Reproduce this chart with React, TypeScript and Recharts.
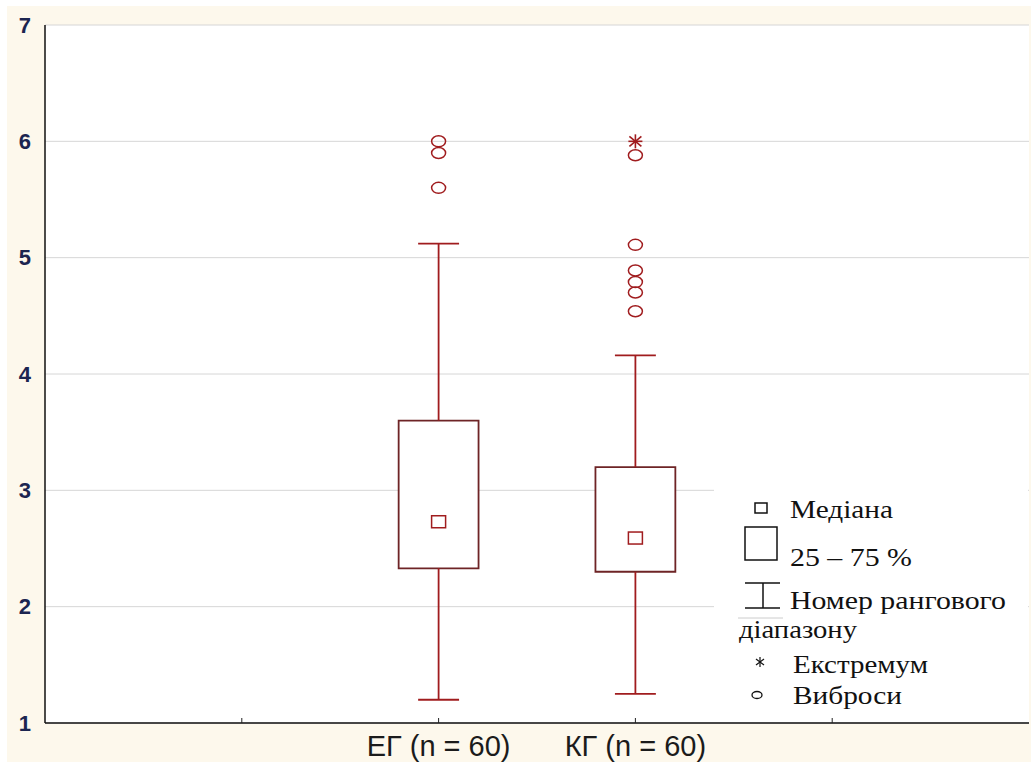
import {
  ComposedChart,
  XAxis,
  YAxis,
  CartesianGrid,
  ReferenceArea,
  ReferenceLine,
  Scatter,
  Legend,
} from "recharts";

// groups (positions on the category axis) and box statistics
const GROUPS = ["ЕГ (n = 60)", "КГ (n = 60)"];
const GROUP_X = [2, 3];
const MINS = [1.2, 1.25];
const Q1S = [2.33, 2.3];
const MEDIANS = [2.73, 2.59];
const Q3S = [3.6, 3.2];
const MAXS = [5.12, 4.16];
const OUTLIERS_EG = [6.0, 5.9, 5.6];
const OUTLIERS_KG = [5.88, 5.11, 4.89, 4.79, 4.7, 4.54];
const EXTREMES_KG = [6.0];

const X_TICKS = [1, 2, 3, 4];
const Y_TICKS = [1, 2, 3, 4, 5, 6, 7];

const BOX_HALF = 0.203;
const CAP_HALF = 0.104;
const RED = "#a01c1e";
const BOX_STROKE = "#6e2426";

const medianPts = GROUP_X.map((x, i) => ({ x, y: MEDIANS[i] }));
const outlierPts = [
  ...OUTLIERS_EG.map((y) => ({ x: GROUP_X[0], y })),
  ...OUTLIERS_KG.map((y) => ({ x: GROUP_X[1], y })),
];
const extremePts = EXTREMES_KG.map((y) => ({ x: GROUP_X[1], y }));

function BottomTick(props: any) {
  const { x, y, payload } = props;
  const idx = GROUP_X.indexOf(payload.value);
  return (
    <g>
      <line x1={x} y1={y} x2={x} y2={y - 5} stroke="#222" />
      {idx >= 0 && (
        <text
          x={x}
          y={y + 33}
          textAnchor="middle"
          fontSize={29}
          fontFamily="Liberation Sans"
          fill="#1b1b1b"
        >
          {GROUPS[idx]}
        </text>
      )}
    </g>
  );
}

function TopTick(props: any) {
  const { x, y } = props;
  return <line x1={x} y1={y} x2={x} y2={y + 5} stroke="#222" />;
}

const MedianShape = (p: any) => (
  <rect x={p.cx - 7} y={p.cy - 6} width={14} height={12} fill="#fff" stroke={RED} strokeWidth={1.5} />
);

const OutlierShape = (p: any) => (
  <ellipse cx={p.cx} cy={p.cy} rx={7} ry={5.5} fill="none" stroke={RED} strokeWidth={1.5} />
);

const ExtremeShape = (p: any) => (
  <g stroke={RED} strokeWidth={1.6}>
    <line x1={p.cx} y1={p.cy - 7} x2={p.cx} y2={p.cy + 7} />
    <line x1={p.cx - 7} y1={p.cy} x2={p.cx + 7} y2={p.cy} />
    <line x1={p.cx - 6} y1={p.cy - 5} x2={p.cx + 6} y2={p.cy + 5} />
    <line x1={p.cx - 6} y1={p.cy + 5} x2={p.cx + 6} y2={p.cy - 5} />
  </g>
);

function LegendBox() {
  const t = { fontFamily: "Liberation Serif", fontSize: 26, fill: "#111", lengthAdjust: "spacingAndGlyphs" as const };
  return (
    <svg width={314} height={234} style={{ display: "block" }}>
      <rect x={41} y={21} width={12} height={10} fill="none" stroke="#111" strokeWidth={1.5} />
      <text x={76} y={36} textLength={103} {...t}>Медіана</text>
      <rect x={31} y={45} width={32} height={33} fill="none" stroke="#111" strokeWidth={1.5} />
      <text x={76} y={84} textLength={122} {...t}>25 – 75 %</text>
      <g stroke="#111" strokeWidth={1.5}>
        <line x1={31} y1={101} x2={66} y2={101} />
        <line x1={49} y1={101} x2={49} y2={126} />
        <line x1={31} y1={126} x2={66} y2={126} />
      </g>
      <line x1={24} y1={136} x2={69} y2={136} stroke="#ccc" />
      <text x={76} y={127} textLength={216} {...t}>Номер рангового</text>
      <text x={25} y={156} textLength={118} {...t}>діапазону</text>
      <g stroke="#111" strokeWidth={1.2}>
        <line x1={46} y1={175} x2={46} y2={185} />
        <line x1={42} y1={177} x2={50} y2={183} />
        <line x1={42} y1={183} x2={50} y2={177} />
      </g>
      <text x={79} y={191} textLength={135} {...t}>Екстремум</text>
      <ellipse cx={43} cy={213} rx={5} ry={3.5} fill="none" stroke="#111" strokeWidth={1.3} />
      <text x={79} y={222} textLength={109} {...t}>Виброси</text>
    </svg>
  );
}

export default function App() {
  return (
    <div style={{ position: "absolute", left: 0, top: 0, width: 1031, height: 762, background: "#fff", overflow: "hidden" }}>
      <div style={{ position: "absolute", left: 7, top: 6, right: 0, bottom: 0, background: "#fdf8ec" }} />
      <div style={{ position: "absolute", left: 0, top: 0 }}>
        <ComposedChart width={1031} height={762} margin={{ top: 25, right: 2, bottom: 0, left: 0 }}>
          <CartesianGrid vertical={false} stroke="#d6d6d6" fill="#fff" fillOpacity={1} />
          <XAxis
            type="number"
            dataKey="x"
            domain={[0, 5]}
            ticks={X_TICKS}
            height={39}
            tickSize={0}
            tickMargin={0}
            tickLine={false}
            axisLine={{ stroke: "#111", strokeWidth: 1.5 }}
            tick={<BottomTick />}
            interval={0}
          />
          <XAxis
            xAxisId="top"
            orientation="top"
            type="number"
            domain={[0, 5]}
            ticks={X_TICKS}
            height={0}
            tickSize={0}
            tickMargin={0}
            tickLine={false}
            axisLine={{ stroke: "#111", strokeWidth: 1.5 }}
            tick={<TopTick />}
            interval={0}
          />
          <YAxis
            type="number"
            dataKey="y"
            domain={[1, 7]}
            ticks={Y_TICKS}
            width={45}
            tickSize={0}
            tickMargin={14}
            tickLine={false}
            interval={0}
            axisLine={{ stroke: "#111", strokeWidth: 1.5 }}
            tick={{ fill: "#1c2550", fontSize: 22, fontFamily: "Liberation Sans", fontWeight: 600 }}
          />
          <YAxis yAxisId="r" orientation="right" width={0} domain={[1, 7]} tick={false} tickLine={false} axisLine={{ stroke: "#111", strokeWidth: 2 }} />

          {GROUP_X.map((x, i) => (
            <ReferenceLine key={`wl${i}`} segment={[{ x, y: MINS[i] }, { x, y: Q1S[i] }]} stroke={RED} strokeWidth={1.8} />
          ))}
          {GROUP_X.map((x, i) => (
            <ReferenceLine key={`wh${i}`} segment={[{ x, y: Q3S[i] }, { x, y: MAXS[i] }]} stroke={RED} strokeWidth={1.8} />
          ))}
          {GROUP_X.map((x, i) => (
            <ReferenceLine key={`cl${i}`} segment={[{ x: x - CAP_HALF, y: MINS[i] }, { x: x + CAP_HALF, y: MINS[i] }]} stroke={RED} strokeWidth={1.8} />
          ))}
          {GROUP_X.map((x, i) => (
            <ReferenceLine key={`ch${i}`} segment={[{ x: x - CAP_HALF, y: MAXS[i] }, { x: x + CAP_HALF, y: MAXS[i] }]} stroke={RED} strokeWidth={1.8} />
          ))}
          {GROUP_X.map((x, i) => (
            <ReferenceArea
              key={`box${i}`}
              x1={x - BOX_HALF}
              x2={x + BOX_HALF}
              y1={Q1S[i]}
              y2={Q3S[i]}
              fill="#fff"
              fillOpacity={1}
              stroke={BOX_STROKE}
              strokeWidth={1.8}
            />
          ))}

          <Scatter data={medianPts} shape={MedianShape} isAnimationActive={false} />
          <Scatter data={outlierPts} shape={OutlierShape} isAnimationActive={false} />
          <Scatter data={extremePts} shape={ExtremeShape} isAnimationActive={false} />

          <Legend
            layout="horizontal"
            verticalAlign="middle"
            align="center"
            content={<LegendBox />}
            wrapperStyle={{ left: 714, top: 482, width: 314, height: 234, background: "#fff" }}
          />
        </ComposedChart>
      </div>
    </div>
  );
}
